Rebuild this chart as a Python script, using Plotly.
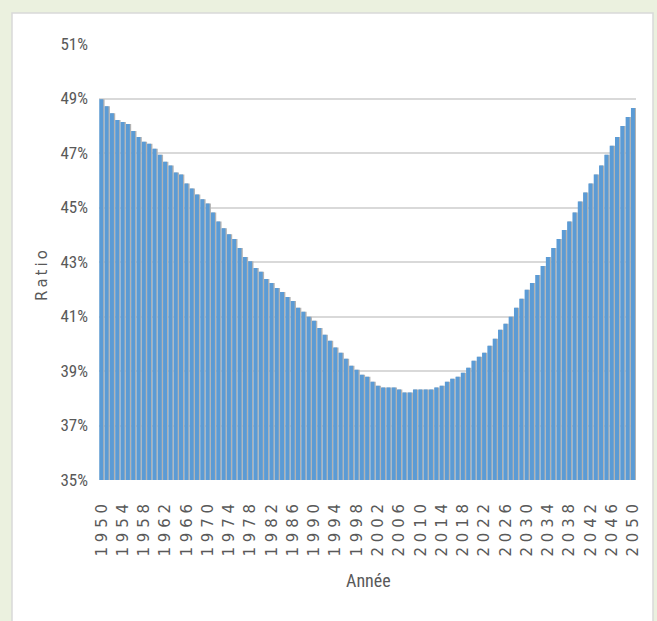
import plotly.graph_objects as go

# Ratio (%) by year, 1950-2050
years = list(range(1950, 2051))
ratio = [
    48.97, 48.72, 48.46, 48.21, 48.14, 48.06, 47.81, 47.59, 47.41, 47.34,  # 1950-1959
    47.16, 46.94, 46.68, 46.54, 46.28, 46.21, 45.88, 45.70, 45.48, 45.30,  # 1960-1969
    45.15, 44.82, 44.49, 44.24, 44.02, 43.84, 43.51, 43.18, 43.03, 42.78,  # 1970-1979
    42.64, 42.38, 42.23, 42.05, 41.90, 41.72, 41.57, 41.32, 41.17, 40.99,  # 1980-1989
    40.84, 40.58, 40.33, 40.11, 39.86, 39.67, 39.45, 39.19, 39.05, 38.86,  # 1990-1999
    38.79, 38.61, 38.46, 38.39, 38.39, 38.39, 38.32, 38.21, 38.21, 38.32,  # 2000-2009
    38.32, 38.32, 38.32, 38.39, 38.46, 38.61, 38.72, 38.79, 38.94, 39.12,  # 2010-2019
    39.38, 39.52, 39.67, 39.93, 40.18, 40.51, 40.73, 40.99, 41.32, 41.65,  # 2020-2029
    41.98, 42.23, 42.52, 42.85, 43.18, 43.51, 43.84, 44.17, 44.49, 44.82,  # 2030-2039
    45.22, 45.55, 45.88, 46.21, 46.54, 46.94, 47.27, 47.59, 47.99, 48.32,  # 2040-2049
    48.65,                                                                 # 2050
]
tick_years = years[::4]
y_ticks = list(range(35, 52, 2))

x_title = "Année"
y_title = "Ratio"

# geometry of the plotting area (px)
W, H = 657, 621
L, R, T, B = 99, 21, 44, 141
PW, PH = W - L - R, H - T - B


def px_x(px):
    return (px - L) / PW


def px_y(py):
    return (H - B - py) / PH


idx = list(range(len(years)))
wide = "\u2009"

fig = go.Figure()
# soft grey shadow behind each bar
fig.add_trace(go.Bar(
    x=idx, y=ratio, base=0, width=0.9, offset=-0.35,
    marker=dict(color="#b3b3b3", line=dict(width=0)),
    hoverinfo="skip", showlegend=False,
))
fig.add_trace(go.Bar(
    x=idx, y=ratio, width=0.75, offset=-0.45,
    marker=dict(color="#5b9bd5", line=dict(width=0)),
    customdata=years, hovertemplate="%{customdata}: %{y:.2f}%<extra></extra>",
    showlegend=False,
))

fig.update_layout(
    width=W, height=H,
    margin=dict(l=L, r=R, t=T, b=B),
    paper_bgcolor="#ebf1df",
    plot_bgcolor="rgba(0,0,0,0)",
    barmode="overlay",
    font=dict(family="DejaVu Sans", color="#595959"),
    shapes=[dict(
        type="rect", xref="paper", yref="paper", layer="below",
        x0=px_x(12), x1=px_x(653), y0=px_y(H + 10), y1=px_y(13),
        fillcolor="white", line=dict(color="#d9d9d9", width=1.5),
    )],
    annotations=[
        dict(text=x_title, xref="paper", yref="paper", x=px_x(368), y=px_y(580),
             showarrow=False, xanchor="center", yanchor="middle",
             font=dict(family="Liberation Sans Narrow, Roboto Condensed, Liberation Sans",
                       size=18, color="#595959")),
        dict(text=wide.join(y_title), xref="paper", yref="paper", x=px_x(42), y=px_y(276),
             showarrow=False, textangle=-90, xanchor="center", yanchor="middle",
             font=dict(family="DejaVu Sans", size=15, color="#595959")),
    ],
)

fig.update_xaxes(
    range=[-0.5, len(years) - 0.5],
    tickmode="array",
    tickvals=[years.index(y) for y in tick_years],
    ticktext=[" ".join(str(y)) for y in tick_years],
    tickangle=-90,
    tickfont=dict(family="DejaVu Sans", size=15, color="#595959"),
    ticks="", showgrid=False, zeroline=False, showline=False,
    ticklabelstandoff=20,
)
fig.update_yaxes(
    range=[35, 51],
    tickmode="array",
    tickvals=y_ticks,
    ticktext=[f"{v}%" for v in y_ticks],
    tickfont=dict(family="Liberation Sans Narrow, Roboto Condensed, Liberation Sans",
                  size=17, color="#595959"),
    showgrid=True, gridcolor="#d9d9d9", gridwidth=2,
    zeroline=False, showline=False, ticks="",
    ticklabelstandoff=10,
)

fig.write_html("out.html")
